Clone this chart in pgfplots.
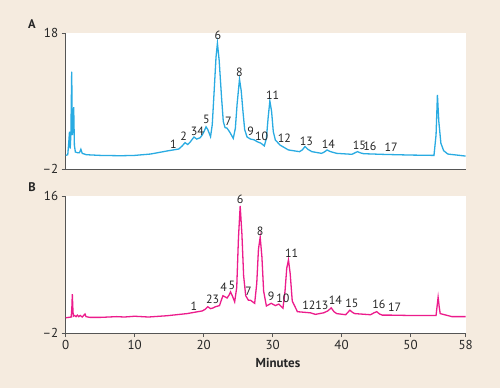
\documentclass[border=0pt]{standalone}
\usepackage{pgfplots}
\pgfplotsset{compat=1.18}
\usepackage{fontspec}
\setmainfont{PT Sans}
\definecolor{bg}{HTML}{F5EBDF}
\definecolor{cyanline}{HTML}{29ABE2}
\definecolor{magline}{HTML}{EC1C8C}
\definecolor{axgray}{HTML}{555555}
\tikzset{pk/.style={font=\fontsize{12}{13}\selectfont, text=black!85, inner sep=0pt}}
\begin{document}
\begin{tikzpicture}
\fill[bg] (0pt,0pt) rectangle (500pt,388pt);
\useasboundingbox (0pt,0pt) rectangle (500pt,388pt);
\pgfplotsset{chrom/.style={scale only axis, width=400pt, xmin=0, xmax=58,
  axis background/.style={fill=white},
  axis x line*=bottom, axis y line*=left,
  axis line style={axgray, line width=0.9pt, -},
  tick style={axgray, line width=0.9pt},
  tick align=outside, major tick length=4pt,
  ticklabel style={font=\fontsize{13}{15}\selectfont, text=black!85},
  /pgf/number format/assume math mode=true,
  clip mode=individual}}
\begin{axis}[chrom, at={(65.7pt,219pt)}, anchor=south west, height=136pt,
  ymin=-2, ymax=18, ytick={-2,18}, yticklabels={--2,18}, xtick=\empty]
\addplot[cyanline, line width=1.3pt] coordinates {
(0,0.0) (0.3,0.1) (0.45,2.0) (0.55,3.5) (0.65,1.0) (0.75,3.0) (0.87,12.3) (0.97,3.0)
(1.08,4.0) (1.16,7.1) (1.26,1.5) (1.4,0.5) (1.7,0.4) (2.0,0.4) (2.2,0.9) (2.4,0.3)
(3,0.1) (5,0.0) (8,-0.05) (10,0.0) (12.3,0.2) (14.7,0.65) (16.4,0.94) (16.9,1.4)
(17.3,1.87) (17.7,1.6) (18.0,1.9) (18.6,2.7) (19.0,2.4) (19.5,2.6) (19.8,3.0) (20.1,3.6)
(20.35,4.2) (20.6,3.8) (21.0,2.75) (21.25,4.5) (21.5,9) (21.8,14.5) (22.0,16.5) (22.25,14)
(22.6,8.5) (22.85,5.0) (23.1,4.1) (23.4,4.0) (23.8,3.4) (24.3,2.5) (24.6,4) (24.85,7.5)
(25.2,11.2) (25.45,9.5) (25.7,6.5) (25.95,3.8) (26.3,2.7) (26.8,2.4) (27.3,2.3) (27.8,2.0)
(28.3,1.8) (28.8,1.4) (29.1,2.5) (29.35,5.5) (29.6,8.0) (29.85,6.5) (30.1,3.5) (30.4,2.26)
(31.1,1.5) (32.3,0.8) (33.9,0.55) (34.3,0.8) (34.7,1.3) (35.1,0.9) (35.7,0.55) (37.1,0.3)
(37.5,0.5) (37.9,0.8) (38.4,0.55) (39.3,0.3) (41.5,0.16) (42.3,0.55) (42.8,0.35) (43.2,0.25)
(46,0.15) (50,0.05) (53.4,0.0) (53.7,3.0) (53.9,8.9) (54.1,5.0) (54.4,1.8) (54.8,0.7)
(55.4,0.2) (58,-0.1)};
\node[pk] at (axis cs:15.6,1.7) {1};
\node[pk] at (axis cs:17.1,2.85) {2};
\node[pk] at (axis cs:19.1,3.6) {34};
\node[pk] at (axis cs:20.4,5.3) {5};
\node[pk] at (axis cs:22.05,17.6) {6};
\node[pk] at (axis cs:23.6,4.96) {7};
\node[pk] at (axis cs:25.2,12.2) {8};
\node[pk] at (axis cs:26.8,3.5) {9};
\node[pk] at (axis cs:28.4,2.85) {10};
\node[pk] at (axis cs:30.0,8.9) {11};
\node[pk] at (axis cs:31.7,2.5) {12};
\node[pk] at (axis cs:34.9,2.1) {13};
\node[pk] at (axis cs:38.1,1.7) {14};
\node[pk] at (axis cs:42.6,1.5) {15};
\node[pk] at (axis cs:44.1,1.3) {16};
\node[pk] at (axis cs:47.2,1.2) {17};
\end{axis}
\begin{axis}[chrom, at={(65.7pt,55pt)}, anchor=south west, height=137pt,
  ymin=-2, ymax=16, ytick={-2,16}, yticklabels={--2,16},
  xtick={0,10,20,30,40,50,58}]
\addplot[magline, line width=1.3pt] coordinates {
(0,0.0) (0.8,0.1) (0.9,1.5) (0.96,3.1) (1.05,1.0) (1.1,0.2) (1.3,0.3) (1.5,0.15)
(1.7,0.35) (1.9,0.15) (2.1,0.3) (2.4,0.1) (2.7,0.4) (2.8,0.5) (2.95,0.15) (3.5,0.05)
(5,0.05) (7.4,0.15) (8.5,0.1) (10,0.2) (12,0.1) (14.7,0.27) (17.6,0.55) (19.8,0.9)
(20.2,1.1) (20.6,1.45) (21.0,1.2) (21.4,1.3) (21.7,1.45) (22.3,1.6) (22.6,2.4) (22.8,2.9)
(23.1,2.75) (23.4,2.6) (23.7,3.0) (23.9,3.4) (24.2,2.8) (24.5,2.1) (24.8,4.0) (25.05,10.5)
(25.3,14.7) (25.55,11) (25.8,5.5) (26.1,2.9) (26.5,2.3) (26.8,2.3) (27.4,1.9) (27.7,4.5)
(27.95,9) (28.2,10.6) (28.45,8.0) (28.7,3.5) (29.1,1.55) (29.8,1.9) (30.4,1.6) (30.9,1.8)
(31.5,1.25) (31.8,3.5) (32.05,6.5) (32.3,7.6) (32.55,5.8) (32.85,2.2) (33.6,0.8) (35.5,0.65)
(36.2,0.45) (37.4,0.65) (38.0,0.9) (38.5,1.3) (38.9,0.8) (39.3,0.55) (40.6,0.4) (41.2,1.0)
(41.6,0.7) (41.9,0.55) (44.2,0.4) (44.7,0.65) (45.1,0.8) (45.5,0.5) (45.9,0.35) (47,0.35)
(50,0.3) (53.7,0.3) (53.85,1.5) (54.0,2.7) (54.15,1.5) (54.3,0.55) (56,0.15) (58,0.15)};
\node[pk] at (axis cs:18.6,1.55) {1};
\node[pk] at (axis cs:21.3,2.45) {23};
\node[pk] at (axis cs:22.9,3.95) {4};
\node[pk] at (axis cs:24.1,4.2) {5};
\node[pk] at (axis cs:25.3,15.6) {6};
\node[pk] at (axis cs:26.5,3.5) {7};
\node[pk] at (axis cs:28.2,11.4) {8};
\node[pk] at (axis cs:29.8,2.8) {9};
\node[pk] at (axis cs:31.5,2.6) {10};
\node[pk] at (axis cs:32.75,8.5) {11};
\node[pk] at (axis cs:36.2,1.7) {1213};
\node[pk] at (axis cs:39.1,2.25) {14};
\node[pk] at (axis cs:41.5,1.9) {15};
\node[pk] at (axis cs:45.4,1.75) {16};
\node[pk] at (axis cs:47.7,1.45) {17};
\end{axis}
\node[font=\bfseries\fontsize{12.5}{14}\selectfont, text=black!85] at (32pt,364pt) {A};
\node[font=\bfseries\fontsize{12.5}{14}\selectfont, text=black!85] at (32pt,201pt) {B};
\node[font=\bfseries\fontsize{13}{15}\selectfont, text=black!85] at (278pt,25pt) {Minutes};
\end{tikzpicture}
\end{document}
